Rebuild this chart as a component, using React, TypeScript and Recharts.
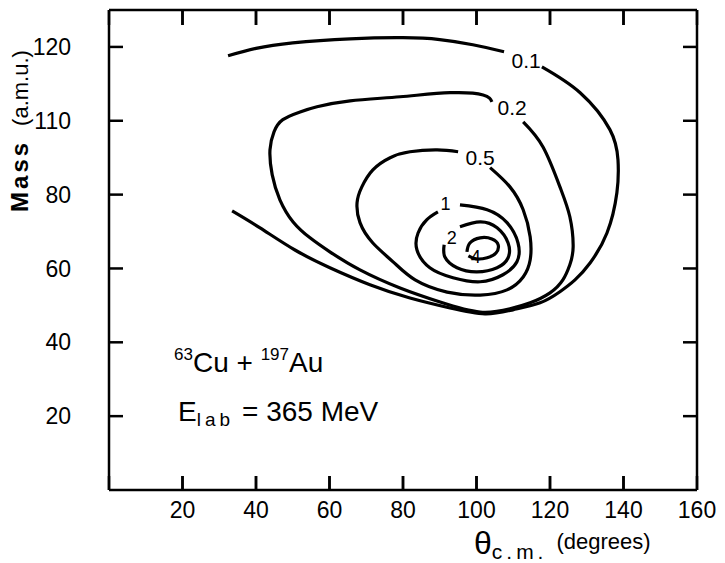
import React from 'react'
import { ComposedChart, Line, XAxis, YAxis, Scatter, CartesianGrid } from 'recharts'

const xTicks = [20, 40, 60, 80, 100, 120, 140, 160]
const yTicks = [20, 40, 60, 80, 100, 120]
// the scan prints "110" where 100 belongs
const yTickText: Record<number, string> = { 100: '110' }

// contour 0.1, split where its label sits
const c01a = [
  { x: 32.4, y: 117.6 }, { x: 40, y: 119.6 }, { x: 50, y: 121.1 }, { x: 65.6, y: 122.2 },
  { x: 80, y: 122.5 }, { x: 90, y: 122 }, { x: 99, y: 120.6 }, { x: 107.5, y: 118.7 },
]
const c01b = [
  { x: 117.8, y: 114.6 }, { x: 128.2, y: 107.6 }, { x: 136.3, y: 97.6 }, { x: 138.5, y: 89.4 },
  { x: 138.2, y: 80.5 }, { x: 135.5, y: 69.6 }, { x: 130.9, y: 61.5 }, { x: 126.8, y: 56.9 },
  { x: 122.7, y: 53.7 }, { x: 117.3, y: 50.7 }, { x: 109.9, y: 48.8 }, { x: 102.3, y: 47.7 },
  { x: 92.8, y: 49.3 }, { x: 81.9, y: 52 }, { x: 71, y: 55.6 }, { x: 60.1, y: 60.2 },
  { x: 50.6, y: 65 }, { x: 41.1, y: 71 }, { x: 33.5, y: 75.6 },
]
const c02 = [
  { x: 112.7, y: 99.7 }, { x: 118.1, y: 92.9 }, { x: 122.7, y: 82.1 }, { x: 125.4, y: 74 },
  { x: 126.3, y: 65.9 }, { x: 125.4, y: 61 }, { x: 123.5, y: 56.9 }, { x: 120, y: 53.4 },
  { x: 114.6, y: 50.7 }, { x: 109.1, y: 49.1 }, { x: 101, y: 48.2 }, { x: 90.1, y: 50.9 },
  { x: 79.2, y: 54.7 }, { x: 68.3, y: 59.6 }, { x: 60.1, y: 64.5 }, { x: 54.7, y: 68.3 },
  { x: 50.1, y: 72.6 }, { x: 46.5, y: 78.6 }, { x: 44.4, y: 85.4 }, { x: 43.8, y: 92.1 },
  { x: 44.9, y: 97 }, { x: 47.3, y: 100.3 }, { x: 52, y: 102.4 }, { x: 56.6, y: 103.8 },
  { x: 65.6, y: 105.4 }, { x: 79.2, y: 106.5 }, { x: 92.8, y: 107.6 }, { x: 101.8, y: 107 },
  { x: 104.2, y: 105.1 },
]
const c05 = [
  { x: 103.7, y: 87.3 }, { x: 109.1, y: 82.1 }, { x: 112.7, y: 75.9 }, { x: 114.6, y: 68.6 },
  { x: 114.6, y: 62.3 }, { x: 112.7, y: 57.7 }, { x: 108.3, y: 54.2 }, { x: 101, y: 52.8 },
  { x: 92, y: 53.6 }, { x: 83.3, y: 56.9 }, { x: 77.3, y: 61.8 }, { x: 71.8, y: 66.9 },
  { x: 68.3, y: 72.4 }, { x: 67.5, y: 77.8 }, { x: 68.8, y: 82.1 }, { x: 71.8, y: 86.7 },
  { x: 76.5, y: 90 }, { x: 81.9, y: 91.6 }, { x: 89.3, y: 92.1 }, { x: 95, y: 91.6 },
]
const c1 = [
  { x: 95.5, y: 77.2 }, { x: 102.9, y: 75.9 }, { x: 108.3, y: 72.4 }, { x: 111.3, y: 66.9 },
  { x: 111, y: 61.8 }, { x: 107.2, y: 58.3 }, { x: 101, y: 56.4 }, { x: 93.6, y: 57.5 },
  { x: 87.3, y: 60.2 }, { x: 83.8, y: 65 }, { x: 84.1, y: 69.6 }, { x: 86.5, y: 73.2 },
  { x: 89.5, y: 75.3 },
]
const c2 = [
  { x: 95.5, y: 71.3 }, { x: 101, y: 72.6 }, { x: 105.6, y: 71 }, { x: 108.6, y: 66.9 },
  { x: 108.6, y: 62.9 }, { x: 105.6, y: 60.2 }, { x: 100.1, y: 59.1 }, { x: 94.7, y: 60.2 },
  { x: 91.4, y: 63.1 }, { x: 91.2, y: 66.4 },
]
const c4 = [
  { x: 97.4, y: 64.5 }, { x: 98.2, y: 66.9 }, { x: 101, y: 68.3 }, { x: 104.2, y: 68 },
  { x: 105.9, y: 66.4 }, { x: 105.3, y: 64.2 }, { x: 102.9, y: 62.9 }, { x: 99.9, y: 62.6 },
  { x: 97.8, y: 63.4 },
]

const contourLabels = [
  { x: 113.5, y: 116.3, t: '0.1', s: 21 },
  { x: 109.7, y: 103.5, t: '0.2', s: 21 },
  { x: 101, y: 90, t: '0.5', s: 21 },
  { x: 91.6, y: 77.4, t: '1', s: 18 },
  { x: 93.3, y: 68.3, t: '2', s: 18 },
  { x: 99.8, y: 63, t: '4', s: 18 },
]

const contours = [c01a, c01b, c02, c05, c1, c2, c4]

const X_MAX = 160
const Y_MAX = 130
const TICK_PX = 14

// chart box
const W = 725
const H = 563
const M = { top: 9, right: 27, bottom: 33, left: 49 }
const Y_AXIS_W = 60
const X_AXIS_H = 40
const PLOT = {
  left: M.left + Y_AXIS_W,
  top: M.top + 1,
  right: W - M.right - 1,
  bottom: H - M.bottom - X_AXIS_H,
}
const PLOT_H = PLOT.bottom - PLOT.top

const font = 'Liberation Sans, Arial, sans-serif'
const axisStroke = { stroke: '#000', strokeWidth: 2.5 }

// inward tick marks on the left and right edges
const innerX = xTicks.filter((t) => t < X_MAX)
const leftMarks = yTicks.map((t) => ({ x: 0, y: t }))
const rightMarks = yTicks.map((t) => ({ x: X_MAX, y: t }))
const hMark = (dx: number) => (p: any) => (
  <line x1={p.cx} y1={p.cy} x2={p.cx + dx} y2={p.cy} stroke="#000" strokeWidth={2.5} />
)

// top and bottom tick marks: grid lines dashed so only both ends show
const vDash = `${TICK_PX + 1} ${PLOT_H - 2 * TICK_PX - 1} ${TICK_PX}`

const BottomTick = (p: any) => (
  <text x={p.x} y={p.y} dy="0.71em" textAnchor="middle" fontSize={23} fontFamily={font} fill="#000">
    {p.payload.value}
  </text>
)
const LeftTick = (p: any) => (
  <text x={p.x - 26} y={p.y} dy="0.355em" textAnchor="end" fontSize={23} fontFamily={font} fill="#000">
    {yTickText[p.payload.value] ?? String(p.payload.value)}
  </text>
)

const xPix = (t: number) => PLOT.left + (t / X_MAX) * (PLOT.right - PLOT.left)

export default function App() {
  return (
    <div style={{ position: 'absolute', left: 0, top: 0, width: W, height: H, background: '#fff' }}>
      <ComposedChart width={W} height={H} margin={M}>
        <CartesianGrid
          horizontal={false}
          vertical
          stroke="#000"
          strokeWidth={2.5}
          strokeDasharray={vDash}
          fill="none"
        />
        <XAxis
          type="number"
          dataKey="x"
          domain={[0, X_MAX]}
          ticks={xTicks}
          height={X_AXIS_H}
          axisLine={axisStroke}
          tickLine={false}
          tickSize={0}
          tickMargin={12}
          tick={BottomTick}
        />
        <XAxis
          xAxisId="top"
          orientation="top"
          type="number"
          dataKey="x"
          domain={[0, X_MAX]}
          ticks={innerX}
          height={1}
          axisLine={axisStroke}
          tickLine={false}
          tick={false}
        />
        <YAxis
          type="number"
          dataKey="y"
          domain={[0, Y_MAX]}
          ticks={yTicks}
          width={Y_AXIS_W}
          axisLine={axisStroke}
          tickLine={false}
          tickSize={0}
          tickMargin={12}
          tick={LeftTick}
        />
        <YAxis
          yAxisId="right"
          orientation="right"
          type="number"
          dataKey="y"
          domain={[0, Y_MAX]}
          ticks={yTicks}
          width={1}
          axisLine={axisStroke}
          tickLine={false}
          tick={false}
        />
        <Scatter data={leftMarks} isAnimationActive={false} shape={hMark(TICK_PX)} />
        <Scatter data={rightMarks} isAnimationActive={false} shape={hMark(-TICK_PX)} />
        {contours.map((c, i) => (
          <Line
            key={i}
            data={c}
            dataKey="y"
            type="natural"
            stroke="#000"
            strokeWidth={3.2}
            dot={false}
            activeDot={false}
            isAnimationActive={false}
          />
        ))}
        <Scatter
          data={contourLabels}
          xAxisId="top"
          yAxisId="right"
          isAnimationActive={false}
          shape={(p: any) => (
            <text
              x={p.cx}
              y={p.cy}
              textAnchor="middle"
              dominantBaseline="central"
              fontSize={p.payload.s}
              fontFamily={font}
              fill="#000"
            >
              {p.payload.t}
            </text>
          )}
        />
      </ComposedChart>
      <svg
        width={W}
        height={H}
        style={{ position: 'absolute', left: 0, top: 0, pointerEvents: 'none' }}
        fontFamily={font}
      >
        {/* fallback for the top and bottom tick marks, from the same tick list and plot box */}
        {innerX.map((t) => (
          <g key={t} stroke="#000" strokeWidth={2.5}>
            <line x1={xPix(t)} x2={xPix(t)} y1={PLOT.bottom} y2={PLOT.bottom - TICK_PX} />
            <line x1={xPix(t)} x2={xPix(t)} y1={PLOT.top} y2={PLOT.top + TICK_PX + 1} />
          </g>
        ))}
        <text transform="translate(28,131) rotate(-90)" textAnchor="middle" fill="#000">
          <tspan fontSize={24} fontWeight="bold" letterSpacing={3}>Mass</tspan>
          <tspan fontSize={22} dx={14}>(a.m.u.)</tspan>
        </text>
        <text x={174} y={372} fontSize={28} fill="#000">
          <tspan fontSize={17} dy={-12}>63</tspan>
          <tspan dy={12}>Cu + </tspan>
          <tspan fontSize={17} dy={-12}>197</tspan>
          <tspan dy={12}>Au</tspan>
        </text>
        <text x={178} y={421} fontSize={28} fill="#000">
          E
          <tspan fontSize={19} dy={5} letterSpacing={4}>lab</tspan>
          <tspan dy={-5} dx={8}>= 365 MeV</tspan>
        </text>
        <text x={474} y={554} fontSize={32} fill="#000">
          θ
          <tspan fontSize={21} dy={5} letterSpacing={4}>c.m.</tspan>
          <tspan fontSize={22} dy={-10} dx={9}>(degrees)</tspan>
        </text>
      </svg>
    </div>
  )
}
